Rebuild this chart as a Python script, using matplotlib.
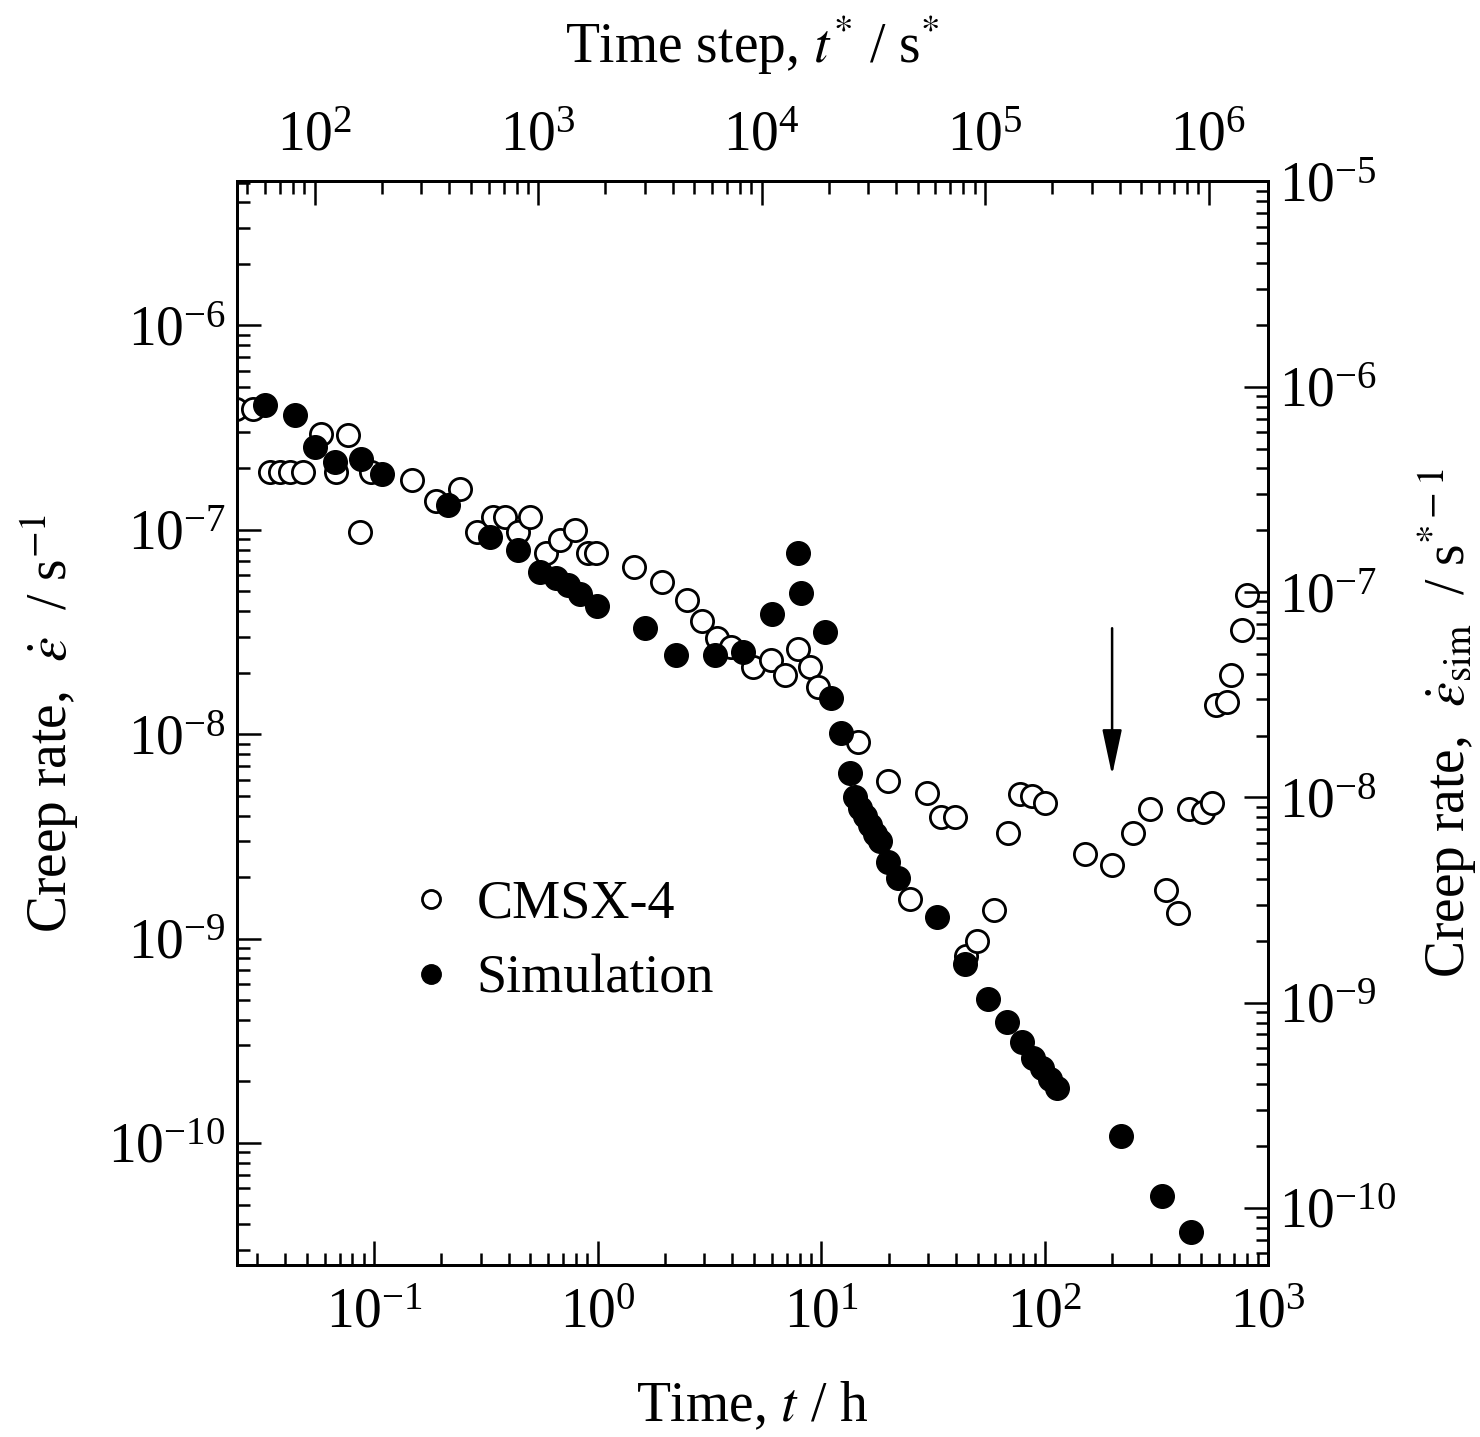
import matplotlib
matplotlib.use('Agg')
import matplotlib.pyplot as plt
import matplotlib.ticker as ticker
from matplotlib.lines import Line2D

plt.rcParams['font.family'] = ['Liberation Serif', 'DejaVu Serif']
plt.rcParams['mathtext.fontset'] = 'stix'

# CMSX-4 experiment (time in h, creep rate in 1/s)
cmsx_t = [0.0242, 0.0287, 0.0341, 0.0378, 0.0419, 0.048, 0.0581, 0.0677, 0.0763, 0.0867,
          0.097, 0.147, 0.19, 0.241, 0.287, 0.34, 0.384, 0.44, 0.496, 0.589,
          0.676, 0.789, 0.905, 0.987, 1.46, 1.94, 2.5, 2.94, 3.41, 3.96,
          4.94, 5.94, 6.87, 7.91, 8.87, 9.72, 14.6, 19.9, 24.9, 29.6,
          34.5, 39.6, 44.2, 49.5, 59.1, 68.5, 77.3, 87.2, 100.7, 151,
          199, 247, 295, 348, 395, 442, 508, 557, 582, 653,
          684, 761, 804]
cmsx_rate = [3.92e-7, 3.92e-7, 1.92e-7, 1.92e-7, 1.92e-7, 1.92e-7, 2.95e-7, 1.92e-7, 2.9e-7, 9.76e-8,
             1.92e-7, 1.75e-7, 1.39e-7, 1.59e-7, 9.76e-8, 1.16e-7, 1.16e-7, 9.76e-8, 1.16e-7, 7.66e-8,
             8.89e-8, 9.95e-8, 7.66e-8, 7.66e-8, 6.58e-8, 5.55e-8, 4.52e-8, 3.6e-8, 2.94e-8, 2.67e-8,
             2.13e-8, 2.3e-8, 1.95e-8, 2.62e-8, 2.13e-8, 1.7e-8, 9.16e-9, 5.9e-9, 1.57e-9, 5.16e-9,
             3.93e-9, 3.93e-9, 8.19e-10, 9.77e-10, 1.38e-9, 3.28e-9, 5.11e-9, 4.96e-9, 4.63e-9, 2.6e-9,
             2.28e-9, 3.28e-9, 4.31e-9, 1.73e-9, 1.33e-9, 4.31e-9, 4.15e-9, 4.63e-9, 1.39e-8, 1.44e-8,
             1.95e-8, 3.23e-8, 4.79e-8]

# Simulation (shown in experiment units)
sim_t = [0.0324, 0.0441, 0.0542, 0.0666, 0.0877, 0.108, 0.214, 0.329, 0.44, 0.55,
         0.649, 0.734, 0.83, 0.99, 1.62, 2.23, 3.35, 4.45, 6.0, 7.91,
         8.09, 10.4, 11.1, 12.2, 13.4, 14.1, 14.9, 15.7, 16.5, 17.4,
         18.3, 19.9, 22.1, 33, 43.9, 55.7, 67.8, 78.7, 88.7, 96.7,
         105, 113, 220, 333, 453]
sim_rate = [4.06e-7, 3.63e-7, 2.54e-7, 2.15e-7, 2.23e-7, 1.88e-7, 1.32e-7, 9.23e-8, 7.94e-8, 6.22e-8,
            5.79e-8, 5.36e-8, 4.84e-8, 4.23e-8, 3.29e-8, 2.43e-8, 2.43e-8, 2.52e-8, 3.89e-8, 7.66e-8,
            4.91e-8, 3.16e-8, 1.5e-8, 1.01e-8, 6.47e-9, 4.91e-9, 4.36e-9, 3.96e-9, 3.58e-9, 3.25e-9,
            3.0e-9, 2.37e-9, 1.99e-9, 1.27e-9, 7.48e-10, 5.06e-10, 3.91e-10, 3.12e-10, 2.61e-10, 2.32e-10,
            2.06e-10, 1.85e-10, 1.08e-10, 5.52e-11, 3.65e-11]

# major ticks shown on each axis
bottom_ticks = [1e-1, 1e0, 1e1, 1e2, 1e3]
top_ticks = [1e2, 1e3, 1e4, 1e5, 1e6]
left_ticks = [1e-10, 1e-9, 1e-8, 1e-7, 1e-6]
right_ticks = [1e-10, 1e-9, 1e-8, 1e-7, 1e-6, 1e-5]

# arrow marking a point of interest
arrow_t = 200
arrow_from, arrow_to = 3.3e-8, 6.3e-9

fs = 40
fig = plt.figure(figsize=(14.8, 14.37), dpi=100)
ax = fig.add_axes([0.160, 0.1197, 0.697, 0.754])

ax.plot(cmsx_t, cmsx_rate, 'o', mfc='white', mec='black', mew=2.0, ms=16, zorder=3)
ax.plot(sim_t, sim_rate, 'o', mfc='black', mec='black', ms=17, zorder=4)

ax.set_xscale('log')
ax.set_yscale('log')
ax.set_xlim(0.0243, 1000)
ax.set_ylim(2.53e-11, 5.06e-6)
ax.set_xlabel('Time, $t$ / h', fontsize=fs, labelpad=30)
ax.set_ylabel(r'Creep rate,  $\dot{\varepsilon}$  / s$^{-1}$', fontsize=fs, labelpad=20)

ax.annotate('', xy=(arrow_t, arrow_to), xytext=(arrow_t, arrow_from),
            arrowprops=dict(arrowstyle='-|>,head_length=1.4,head_width=0.3', color='black', lw=1.8,
                            mutation_scale=20, shrinkA=0, shrinkB=0))

# top axis: time step
axt = ax.twiny()
axt.set_xscale('log')
axt.set_xlim(44.8, 1.853e6)
axt.set_xlabel('Time step, $t^{*}$ / s$^{*}$', fontsize=fs, labelpad=34)

# right axis: simulated creep rate
axr = ax.twinx()
axr.set_yscale('log')
axr.set_ylim(5.27e-11, 1e-5)
axr.set_ylabel(r'Creep rate,  $\dot{\varepsilon}_{\rm sim}$  / s$^{*-1}$', fontsize=fs, labelpad=14)

ax.xaxis.set_major_locator(ticker.FixedLocator(bottom_ticks))
ax.yaxis.set_major_locator(ticker.FixedLocator(left_ticks))
axt.xaxis.set_major_locator(ticker.FixedLocator(top_ticks))
axr.yaxis.set_major_locator(ticker.FixedLocator(right_ticks))

for a in (ax, axt, axr):
    a.xaxis.set_minor_locator(ticker.LogLocator(base=10, subs=range(2, 10), numticks=20))
    a.yaxis.set_minor_locator(ticker.LogLocator(base=10, subs=range(2, 10), numticks=20))
    a.xaxis.set_minor_formatter(ticker.NullFormatter())
    a.yaxis.set_minor_formatter(ticker.NullFormatter())
    a.xaxis.set_major_formatter(ticker.LogFormatterSciNotation())
    a.yaxis.set_major_formatter(ticker.LogFormatterSciNotation())
    for s in a.spines.values():
        s.set_linewidth(2)

ax.tick_params(which='both', direction='in', top=False, right=False, labelsize=fs, width=1.8)
ax.tick_params(which='major', length=17)
ax.tick_params(which='minor', length=9)
ax.tick_params(axis='x', which='major', pad=16)
ax.tick_params(axis='y', which='major', pad=8)
axt.tick_params(which='both', direction='in', labelsize=fs, width=1.8)
axt.tick_params(which='major', length=17, pad=14)
axt.tick_params(which='minor', length=9)
axr.tick_params(which='both', direction='in', labelsize=fs, width=1.8)
axr.tick_params(which='major', length=17, pad=8)
axr.tick_params(which='minor', length=9)

handles = [Line2D([], [], marker='o', ls='', mfc='white', mec='black', mew=2.0, ms=13),
           Line2D([], [], marker='o', ls='', mfc='black', mec='black', ms=14)]
ax.legend(handles, ['CMSX-4', 'Simulation'], loc='center left', bbox_to_anchor=(0.125, 0.298),
          frameon=False, fontsize=39, handlelength=0.6, handletextpad=0.55, labelspacing=0.45)

fig.savefig('out.png', dpi=100)
